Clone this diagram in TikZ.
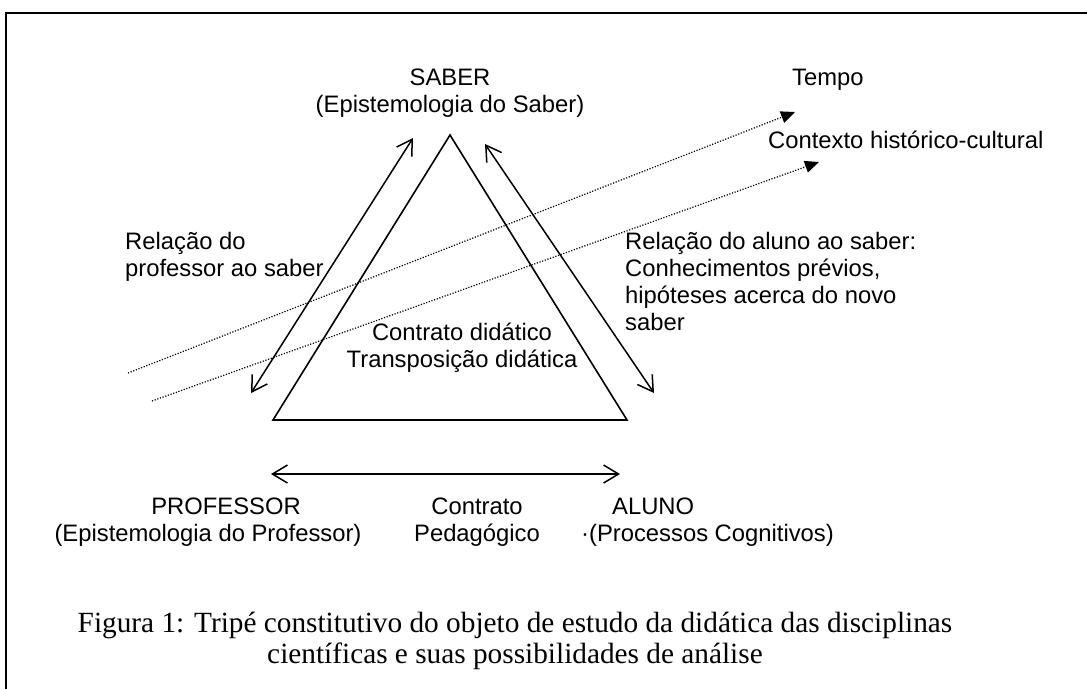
\documentclass[tikz,border=0pt]{standalone}
\usepackage{fontspec}
\setmainfont{Liberation Sans}
\newfontfamily\captionfont{Liberation Serif}
\usetikzlibrary{arrows.meta}

\begin{document}
\begin{tikzpicture}[x=1pt, y=-1pt,
		label text/.style={font=\fontsize{23.8}{26.8}\selectfont, inner sep=0pt},
		double link/.style={line width=1.5pt, {Straight Barb[length=15pt,width=18pt]}-{Straight Barb[length=15pt,width=18pt]}},
		time link/.style={line width=1.2pt, dash pattern=on 1.2pt off 1.6pt, -{Triangle[length=14pt,width=12pt]}}]
		\useasboundingbox (0,0) rectangle (1087,689);
		
		%frame
		\draw[line width=2pt] (6,689) -- (6,13) -- (1087,13);
		
		%triangle's corners
		\coordinate (Saber Corner) at (450,135);
		\coordinate (Professor Corner) at (273,420);
		\coordinate (Aluno Corner) at (627,420);
		\draw[line width=1.6pt, line join=miter] (Saber Corner) -- (Professor Corner) -- (Aluno Corner) -- cycle;
		
		%labels (multi-line nodes sit on their last baseline)
		\node (Saber) at (450,112) [label text, anchor=base, align=center]{SABER\\(Epistemologia do Saber)};
		\node (Tempo) at (792,85) [label text, anchor=base west]{Tempo};
		\node (Contexto) at (768,148) [label text, anchor=base west]{Contexto histórico-cultural};
		\node (Relacao Professor) at (125,276) [label text, anchor=base west, align=left]{Relação do\\professor ao saber};
		\node (Relacao Aluno) at (625,330) [label text, anchor=base west, align=left]{Relação do aluno ao saber:\\Conhecimentos prévios,\\hipóteses acerca do novo\\saber};
		\node (Contrato Didatico) at (462,367) [label text, anchor=base, align=center]{Contrato didático\\Transposição didática};
		
		\node (Professor) at (226,514) [label text, anchor=base]{PROFESSOR};
		\node (Epistemologia Professor) at (208,541) [label text, anchor=base]{(Epistemologia do Professor)};
		\node (Contrato Pedagogico) at (477,541) [label text, anchor=base, align=center]{Contrato\\Pedagógico};
		\node (Aluno) at (612,514) [label text, anchor=base west]{ALUNO};
		\node (Processos Cognitivos) at (581,541) [label text, anchor=base west]{·(Processos Cognitivos)};
		
		\node (Caption) at (515,663) [font=\captionfont\fontsize{29.3}{31}\selectfont, inner sep=0pt, anchor=base, align=center]{Figura 1: Tripé constitutivo do objeto de estudo da didática das disciplinas\\científicas e suas possibilidades de análise};
		
		%arrow ends
		\coordinate (Professor Low) at (251,393);
		\coordinate (Professor High) at (413,138);
		\coordinate (Aluno High) at (485,144);
		\coordinate (Aluno Low) at (654,393);
		\coordinate (Pedagogico Left) at (271,474);
		\coordinate (Pedagogico Right) at (620,474);
		\coordinate (Tempo Start) at (128,373);
		\coordinate (Tempo End) at (795,112);
		\coordinate (Contexto Start) at (152,401);
		\coordinate (Contexto End) at (819,162);
		
		%links
		\draw[double link] (Professor Low) -- (Professor High);
		\draw[double link] (Aluno High) -- (Aluno Low);
		\draw[double link] (Pedagogico Left) -- (Pedagogico Right);
		\draw[time link] (Tempo Start) -- (Tempo End);
		\draw[time link] (Contexto Start) -- (Contexto End);
		
\end{tikzpicture}
\end{document}
